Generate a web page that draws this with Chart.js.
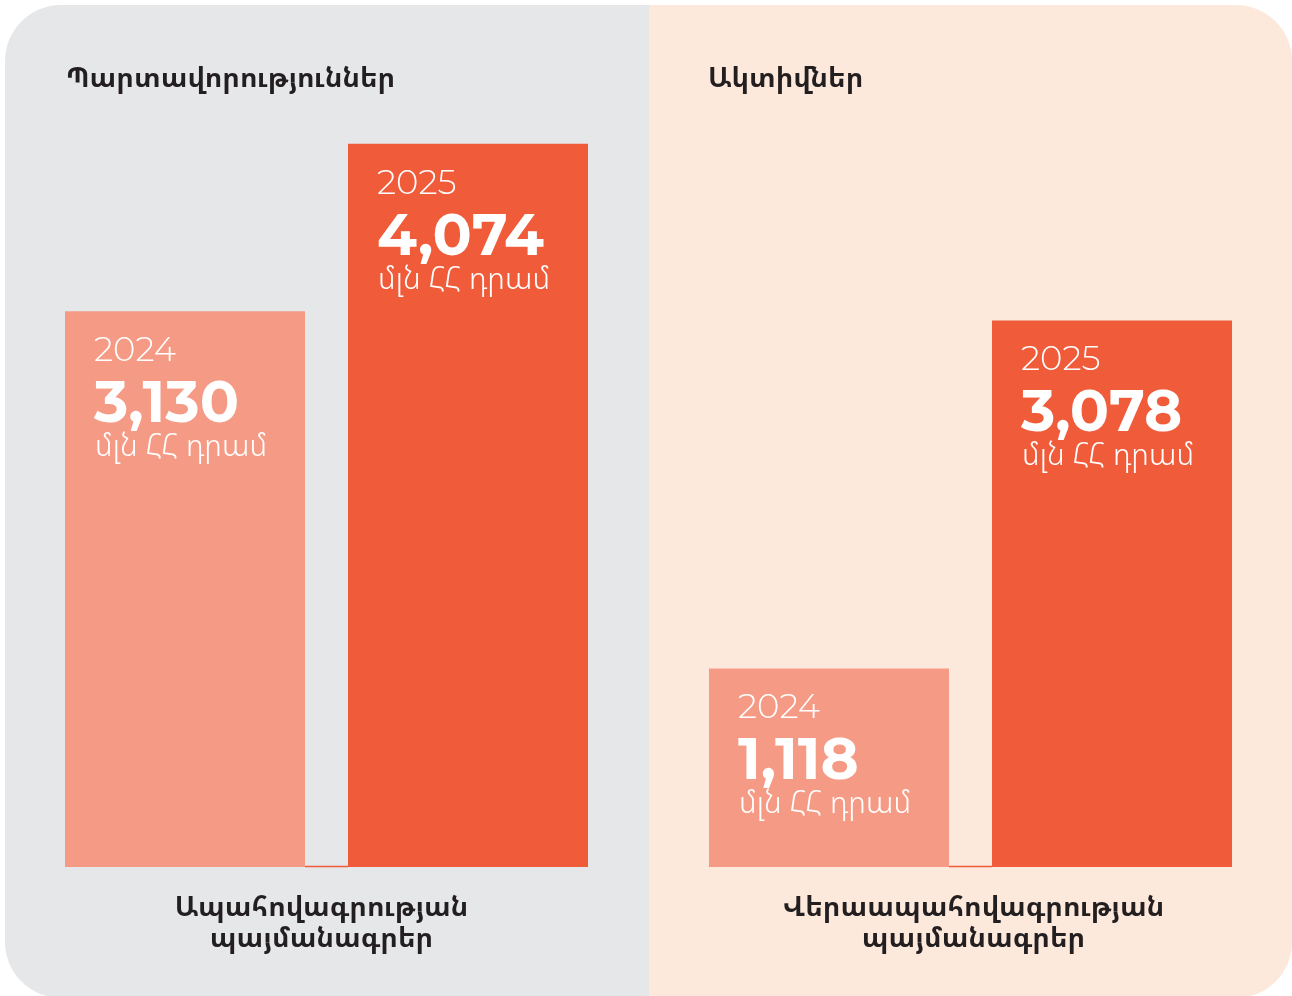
<!DOCTYPE html>
<html lang="hy">
<head>
<meta charset="utf-8">
<script src="https://cdn.jsdelivr.net/npm/chart.js@4"></script>
<style>
  html, body { margin: 0; padding: 0; background: #ffffff; }
  #frame {
    position: absolute; left: 5px; top: 5px; width: 1287px; height: 993px;
    border-radius: 56px; overflow: hidden;
  }
  .panel { position: absolute; top: 0; height: 993px; }
  #p-left  { left: 0;     width: 644px; background: #e6e7e9; }
  #p-right { left: 644px; width: 643px; background: #fde8dc; }
  canvas { display: block; }
</style>
</head>
<body>
<div id="frame">
  <div class="panel" id="p-left"><canvas id="chart-left"></canvas></div>
  <div class="panel" id="p-right"><canvas id="chart-right"></canvas></div>
</div>
<script>
// ─── Data ─────────────────────────────────────────────────────────────────────
const years        = ['2024', '2025'];
const liabilities  = [3130, 4074];   // Պարտավորություններ
const assets       = [1118, 3078];   // Ակտիվներ
const panelTitles  = ['Պարտավորություններ', 'Ակտիվներ'];
const groupLabels  = [
  ['Ապահովագրության', 'պայմանագրեր'],
  ['Վերաապահովագրության', 'պայմանագրեր'],
];
const unitLabel    = 'մլն ՀՀ դրամ';

// ─── Styles ───────────────────────────────────────────────────────────────────
const BAR_COLORS = ['#f59b85', '#f05b3a'];
const ARM_FONT   = '"Noto Sans Armenian", "DejaVu Sans", sans-serif';
const NUM_FONT   = 'Montserrat, Inter, "Open Sans", sans-serif';

// ─── Plugin: textos dentro das barras, títulos e rótulos ─────────────────────
const panelText = {
  id: 'panelText',
  afterDatasetsDraw(chart, _args, opts) {
    const ctx  = chart.ctx;
    const bars = chart.getDatasetMeta(0).data;
    const vals = chart.data.datasets[0].data;
    ctx.save();

    // linha fina na base, só entre as barras
    const b0 = bars[0], b1 = bars[1];
    ctx.strokeStyle = '#f05b3a';
    ctx.lineWidth = 1.5;
    ctx.beginPath();
    ctx.moveTo(b0.x + b0.width / 2, b0.base - 0.5);
    ctx.lineTo(b1.x - b1.width / 2, b1.base - 0.5);
    ctx.stroke();

    // texto de cada barra
    ctx.fillStyle = '#ffffff';
    ctx.textAlign = 'left';
    ctx.textBaseline = 'alphabetic';
    bars.forEach((bar, i) => {
      const left = bar.x - bar.width / 2 + 29;
      const top  = bar.y;
      ctx.font = '300 34px ' + NUM_FONT;
      ctx.fillText(chart.data.labels[i], left, top + 50);
      ctx.font = '700 58px ' + NUM_FONT;
      ctx.fillText(vals[i].toLocaleString('en-US'), left, top + 111);
      ctx.font = '300 31px ' + ARM_FONT;
      ctx.fillText(unitLabel, left + 1, top + 145);
    });

    // título do painel
    ctx.fillStyle = '#231f20';
    ctx.font = 'bold 27.5px ' + ARM_FONT;
    ctx.fillText(opts.title, b0.x - b0.width / 2 + opts.titleShift, 82);

    // rótulo do grupo embaixo
    ctx.textAlign = 'center';
    const cx = (b0.x + b1.x) / 2 + opts.labelShift;
    opts.group.forEach((line, k) => {
      ctx.fillText(line, cx, 911 + k * 31);
    });
    ctx.restore();
  },
};

// ─── Cria um painel ───────────────────────────────────────────────────────────
function criarPainel(id, valores, titulo, grupo, width, padRight, shifts) {
  const canvas = document.getElementById(id);
  canvas.width = width;
  canvas.height = 993;
  return new Chart(canvas, {
    type: 'bar',
    data: {
      labels: years,
      datasets: [{
        data: valores,
        backgroundColor: BAR_COLORS,
        borderWidth: 0,
        barPercentage: 240 / 283,
        categoryPercentage: 1,
      }],
    },
    options: {
      responsive: false,
      animation: false,
      events: [],
      layout: { padding: { left: 38.5, right: padRight, top: 63, bottom: 131 } },
      plugins: {
        legend: { display: false },
        tooltip: { enabled: false },
        panelText: { title: titulo, group: grupo, ...shifts },
      },
      scales: {
        x: { display: false },
        y: { display: false, min: 0, max: 4500 },
      },
    },
    plugins: [panelText],
  });
}

criarPainel('chart-left',  liabilities, panelTitles[0], groupLabels[0], 644, 39.5, { titleShift: 1, labelShift: -5 });
criarPainel('chart-right', assets,      panelTitles[1], groupLabels[1], 643, 38.5, { titleShift: -1, labelShift: 3 });
</script>
</body>
</html>
